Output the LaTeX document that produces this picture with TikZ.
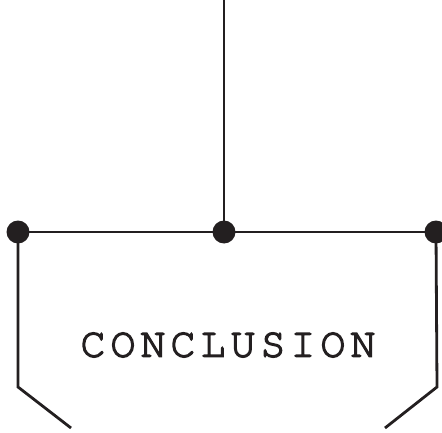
\documentclass[tikz,border=0pt]{standalone}
\usepackage{fontspec}
\newfontfamily\monofont[LetterSpace=11.4,FakeBold=3]{TeX Gyre Cursor}
\definecolor{ink}{HTML}{231F20}
\begin{document}
\begin{tikzpicture}[x=1pt,y=-1pt,
  wire/.style={draw=ink,line width=2.8pt},
  dot/.style={circle,fill=ink,inner sep=0pt,minimum size=23pt}]
\useasboundingbox (0,0) rectangle (442,433);
\coordinate (top) at (224,0);
\node[dot] (c) at (224,232) {};
\node[dot] (l) at (18,232) {};
\node[dot] (r) at (436,232) {};
\coordinate (lb) at (18,387);
\coordinate (le) at (71,428);
\coordinate (rb) at (437,387);
\coordinate (re) at (385,428);
\draw[wire] (top) -- (c.center);
\draw[wire] (l.center) -- (r.center);
\draw[wire,line join=miter] (l.center) -- (lb) -- (le);
\draw[wire,line join=miter] (r.center) -- (rb) -- (re);
\node[text=ink,inner sep=0pt,anchor=center] (t) at (228,345) {\fontsize{42}{42}\monofont CONCLUSION};
\end{tikzpicture}
\end{document}
